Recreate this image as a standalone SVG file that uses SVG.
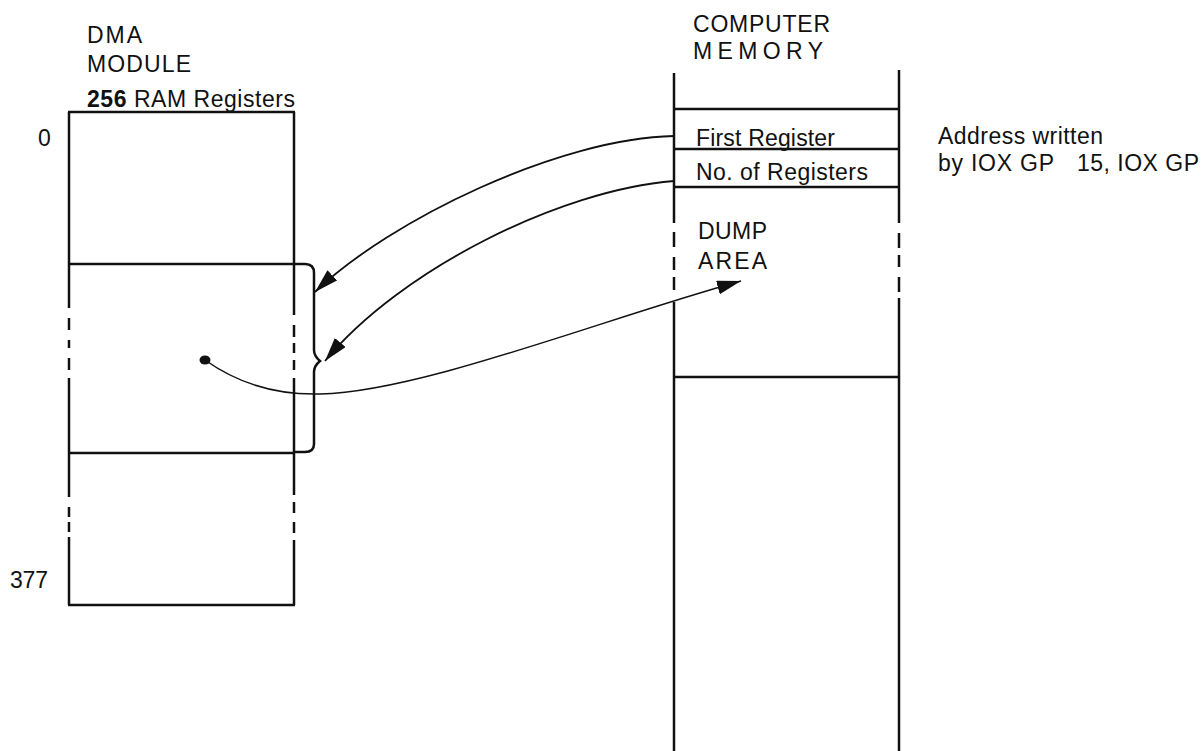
<svg xmlns="http://www.w3.org/2000/svg" width="1204" height="751" viewBox="0 0 1204 751">
<style>
.s{stroke:#111;stroke-width:2.5;fill:none;stroke-linecap:butt}
.t{font-family:"Liberation Sans",Arial,sans-serif;font-size:23px;fill:#111}
.c{stroke:#111;stroke-width:1.8;fill:none}
.c3{stroke:#111;stroke-width:1.5;fill:none}
</style>
<defs>
<marker id="ah" markerUnits="userSpaceOnUse" markerWidth="26" markerHeight="16" refX="24" refY="7" orient="auto">
<path d="M0,0 L24,7 L0,14 z" fill="#111"/>
</marker>
</defs>
<rect width="1204" height="751" fill="#fff"/>

<g id="dma">
<text class="t" x="87" y="43" textLength="55" lengthAdjust="spacing">DMA</text>
<text class="t" x="87" y="72" textLength="104" lengthAdjust="spacing">MODULE</text>
<text class="t" x="87" y="107" textLength="208" lengthAdjust="spacing"><tspan font-weight="bold">256</tspan> RAM Registers</text>
<text class="t" x="38" y="146">0</text>
<text class="t" x="10" y="588" textLength="38" lengthAdjust="spacing">377</text>
<line class="s" x1="68" y1="112" x2="295" y2="112"/>
<line class="s" x1="69" y1="264" x2="294" y2="264"/>
<line class="s" x1="69" y1="453" x2="294" y2="453"/>
<line class="s" x1="68" y1="605" x2="295" y2="605"/>
<path class="s" d="M69 112V308M69 318V330M69 340V348M69 358V370M69 378V497M69 507V517M69 522V532M69 537V605"/>
<path class="s" d="M294 112V315M294 325V337M294 343V353M294 360V370M294 378V495M294 502V513M294 522V533M294 540V605"/>
<path class="s" stroke-width="2" d="M294 264H305Q314 264 314 273V350Q314 356 320 361Q314 366 314 372V444Q314 452 305 452H294"/>
<ellipse cx="205" cy="360" rx="5.5" ry="4.5" fill="#111"/>
</g>

<g id="memory">
<text class="t" x="693" y="32" textLength="137" lengthAdjust="spacing">COMPUTER</text>
<text class="t" x="693" y="59" textLength="130" lengthAdjust="spacing">MEMORY</text>
<path class="s" d="M674 73V223M674 232V247M674 257V270M674 277V290M674 302V751"/>
<path class="s" d="M899 70V223M899 233V248M899 255V267M899 277V292M899 298V751"/>
<line class="s" x1="674" y1="109" x2="899" y2="109"/>
<line class="s" x1="674" y1="149" x2="899" y2="149"/>
<line class="s" x1="674" y1="187" x2="899" y2="187"/>
<line class="s" x1="674" y1="377" x2="899" y2="377"/>
<text class="t" x="696" y="146" textLength="139" lengthAdjust="spacing">First Register</text>
<text class="t" x="696" y="180" textLength="172" lengthAdjust="spacing">No. of Registers</text>
<text class="t" x="698" y="239" textLength="69" lengthAdjust="spacing">DUMP</text>
<text class="t" x="698" y="269" textLength="69" lengthAdjust="spacing">AREA</text>
</g>

<g id="note">
<text class="t" x="938" y="144" textLength="165" lengthAdjust="spacing">Address written</text>
<text class="t" x="938" y="171" textLength="116" lengthAdjust="spacing">by IOX GP</text>
<text class="t" x="1077" y="171" textLength="122" lengthAdjust="spacing">15, IOX GP</text>
</g>

<g id="connectors">
<path class="c" d="M674 136C560 138 390 220 315 292" marker-end="url(#ah)"/>
<path class="c" d="M674 181C560 190 400 270 325 361" marker-end="url(#ah)"/>
<path class="c3" d="M205 360C240 385 280 395 320 394C420 392 600 320 741 281" marker-end="url(#ah)"/>
</g>
</svg>
